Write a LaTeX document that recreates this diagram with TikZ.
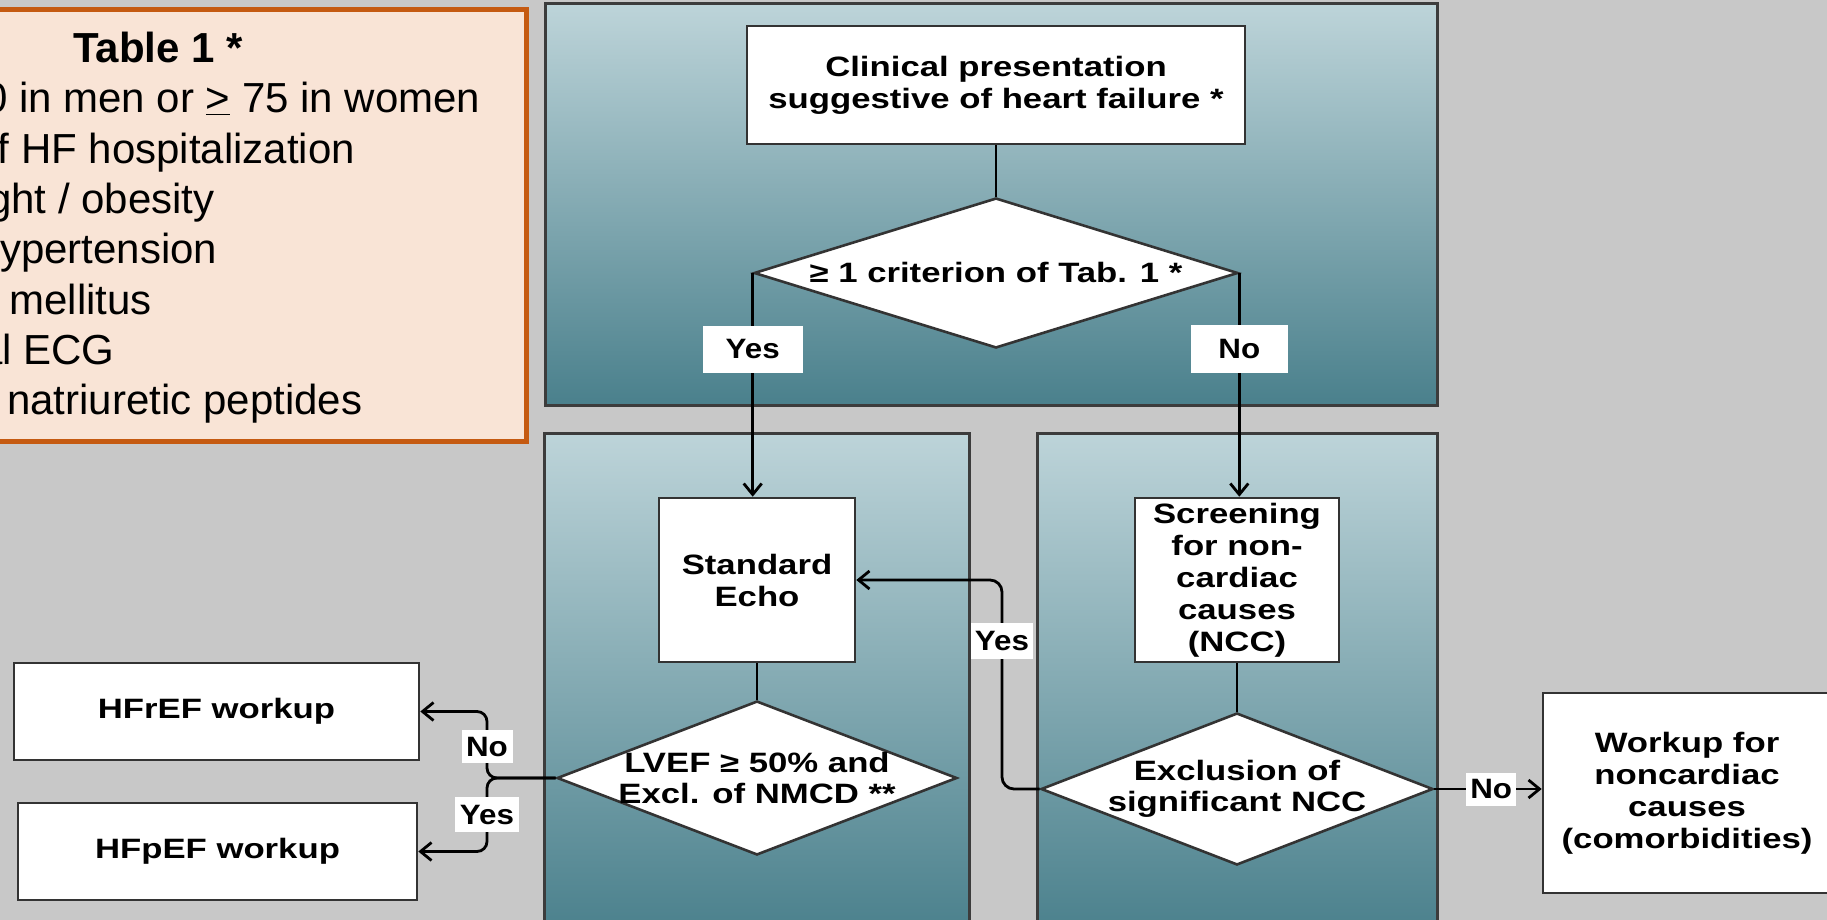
\documentclass[tikz,border=0pt]{standalone}
\usepackage{fontspec}
\setmainfont{Liberation Sans}
\newfontfamily\flowfont[FakeStretch=1.24]{Liberation Sans}
\newfontfamily\labfont[FakeStretch=1.12]{Liberation Sans}
\usetikzlibrary{shapes.geometric,arrows.meta,calc}
\definecolor{bggray}{HTML}{C8C8C8}
\definecolor{paneltop}{HTML}{BDD4D9}
\definecolor{panelbot}{HTML}{4A808C}
\definecolor{panelline}{HTML}{3C3C3C}
\definecolor{taborange}{HTML}{C55A11}
\definecolor{tabfill}{HTML}{F9E4D6}
\definecolor{boxline}{HTML}{333333}
\begin{document}
\begin{tikzpicture}[x=1pt,y=-1pt,
  panel/.style={draw=panelline, line width=3pt, top color=paneltop, bottom color=panelbot, inner sep=0pt},
  fbox/.style={draw=boxline, fill=white, line width=2.6pt, inner sep=0pt, align=center,
    font={\flowfont\bfseries\fontsize{28}{32}\selectfont}},
  dia/.style={diamond, draw=boxline, fill=white, line width=2.6pt, inner sep=0pt},
  diatext/.style={align=center, inner sep=0pt, font={\flowfont\bfseries\fontsize{28}{31}\selectfont}},
  tabline/.style={anchor=base west, inner sep=0pt, font={\fontsize{42}{50}\selectfont}},
  conn/.style={line width=2.8pt, draw=black},
  arr/.style={conn, -{Straight Barb[length=11pt,width=18pt]}},
  lab/.style={sharp corners, fill=white, inner sep=0pt, text=black, font={\labfont\bfseries\fontsize{28}{32}\selectfont}}
]
\useasboundingbox (0,0) rectangle (1827,920);
\clip (0,0) rectangle (1827,920);
\fill[bggray] (0,0) rectangle (1827,920);

% Table 1
\node (tab) [draw=taborange, fill=tabfill, line width=5pt, inner sep=0pt,
  minimum width=738pt, minimum height=431pt] at (157,225.5) {};
\node (tabtitle) [anchor=base, inner sep=0pt, font={\bfseries\fontsize{42}{50}\selectfont}] at (158,63) {Table 1 *};
\node (tl1) [tabline] at (-162,113) {Age \underline{>} 70 in men or \underline{>} 75 in women};
\node (tl2) [tabline] at (-168,163.3) {History of HF hospitalization};
\node (tl3) [tabline] at (-166,213.6) {Overweight / obesity};
\node (tl4) [tabline] at (-168,263.9) {Arterial hypertension};
\node (tl5) [tabline] at (-168,314.2) {Diabetes mellitus};
\node (tl6) [tabline] at (-168,364.5) {Abnormal ECG};
\node (tl7) [tabline] at (-168,414.8) {Elevated natriuretic peptides};

% panels
\node (ptop) [panel, minimum width=892pt, minimum height=401pt] at (991,204.5) {};
\node (pleft) [panel, minimum width=425pt, minimum height=502pt] at (756.5,684) {};
\node (pright) [panel, minimum width=400pt, minimum height=502pt] at (1237,684) {};

% boxes
\node (clinical) [fbox, minimum width=498pt, minimum height=118pt] at (996,85)
  {Clinical presentation\\suggestive of heart failure *};
\node (crit) [dia, minimum width=484pt, minimum height=150pt] at (996,273) {};
\node (crittext) [diatext] at (996,272) {≥ 1 criterion of Tab. 1 *};
\node (stdecho) [fbox, minimum width=196pt, minimum height=164pt] at (757,580) {Standard\\Echo};
\node (lvef) [dia, minimum width=400pt, minimum height=154pt] at (757,778) {};
\node (lveftext) [diatext] at (757,778) {LVEF ≥ 50\% and\\Excl. of NMCD **};
\node (screen) [fbox, minimum width=204pt, minimum height=164pt] at (1237,580)
  {Screening\\for non-\\cardiac\\causes\\(NCC)};
\node (excl) [dia, minimum width=392pt, minimum height=152pt] at (1237,789) {};
\node (excltext) [diatext] at (1237,789) {Exclusion of\\significant NCC};
\node (workup) [fbox, minimum width=288pt, minimum height=200pt] at (1687,793)
  {Workup for\\noncardiac\\causes\\(comorbidities)};
\node (hfref) [fbox, minimum width=405pt, minimum height=97pt] at (216.5,711.5) {HFrEF workup};
\node (hfpef) [fbox, minimum width=399pt, minimum height=97pt] at (217.5,851.5) {HFpEF workup};

% connectors
\draw[conn] (clinical.south) -- (crit.north);
\draw[arr] (crit.west) -- node[lab, pos=0.34, minimum width=100pt, minimum height=47pt] (yes1) {Yes}
  (crit.west |- stdecho.north);
\draw[arr] (crit.east) -- node[lab, pos=0.34, minimum width=97pt, minimum height=48pt] (no1) {No}
  (crit.east |- screen.north);
\draw[conn] (stdecho.south) -- (lvef.north);
\draw[conn] (screen.south) -- (excl.north);
\draw[arr] (excl.east) -- node[lab, pos=0.53, minimum width=50pt, minimum height=33pt] (no2) {No}
  (excl.east -| workup.west);
\coordinate (loopx) at (1002,0);
\draw[arr, rounded corners=12pt] (excl.west) -- (excl.west -| loopx)
  -- node[lab, pos=0.71, minimum width=62pt, minimum height=36pt] (yes2) {Yes} (loopx |- stdecho.east)
  -- (stdecho.east);
\coordinate (brx) at (487,0);
\draw[arr, rounded corners=10pt] (lvef.west) -- (lvef.west -| brx)
  -- node[lab, pos=0.47, minimum width=51pt, minimum height=33pt] (no3) {No} (brx |- hfref.east)
  -- (hfref.east);
\draw[arr, rounded corners=10pt] (lvef.west) -- (lvef.west -| brx)
  -- node[lab, pos=0.5, minimum width=64pt, minimum height=35pt] (yes3) {Yes} (brx |- hfpef.east)
  -- (hfpef.east);
\end{tikzpicture}
\end{document}
